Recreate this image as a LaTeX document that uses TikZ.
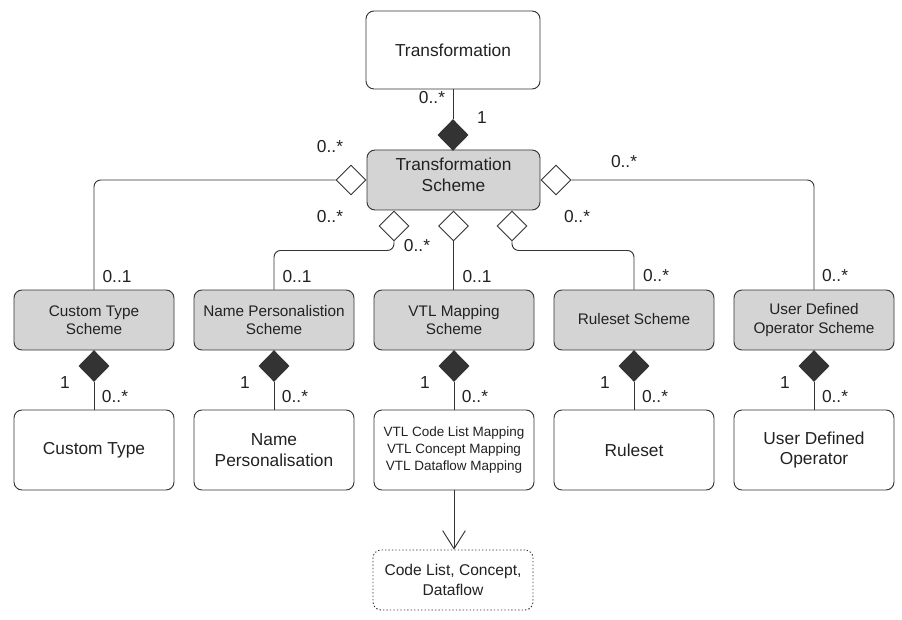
\documentclass[tikz,border=0pt]{standalone}
\usepackage{fontspec}
\setmainfont{Liberation Sans}
\usetikzlibrary{shapes.geometric,arrows.meta}
\definecolor{ln}{HTML}{333333}
\definecolor{txt}{HTML}{222222}
\definecolor{boxgray}{HTML}{D4D4D4}
\tikzset{
  box/.style={draw=ln, line width=0.7pt, rounded corners=6pt, align=center, text=txt, minimum width=120pt},
  clsbox/.style={box, fill=boxgray, minimum height=45pt, font=\fontsize{11.5}{13.8}\selectfont},
  itembox/.style={box, fill=white, minimum height=60pt, font=\fontsize{13}{15.5}\selectfont},
  fdia/.style={diamond, draw=ln, fill=ln, line width=0.7pt, inner sep=0pt, minimum width=22.5pt, minimum height=23pt},
  odia/.style={diamond, draw=ln, fill=white, line width=0.7pt, inner sep=0pt, minimum width=22.5pt, minimum height=22.5pt},
  lbl/.style={font=\fontsize{13}{15}\selectfont, text=txt, inner sep=0pt},
  conn/.style={draw=ln, line width=0.7pt, rounded corners=5pt},
}
\begin{document}
\begin{tikzpicture}[x=0.75pt, y=-0.75pt]
\useasboundingbox (0,0) rectangle (902,620);

% top
\node[box, fill=white, minimum width=130.5pt, minimum height=58.5pt, font=\fontsize{13}{15.5}\selectfont] (tr) at (453,50) {Transformation};
\node[box, fill=boxgray, minimum width=129.75pt, minimum height=45pt] (ts) at (453.5,180) {};
\node[font=\fontsize{13}{15.75}\selectfont, align=center, text=txt] (tstext) at (453.5,175) {Transformation\\Scheme};

\node[fdia] (dtop) at (453,135) {};
\draw[conn] (tr.south) -- (dtop.north);
\node[lbl] (l1) at (432,98) {0..*};
\node[lbl] (l2) at (482,118) {1};

% middle row
\node[clsbox] (cts) at (94,320) {Custom Type\\Scheme};
\node[clsbox] (nps) at (274,320) {Name Personalistion\\Scheme};
\node[clsbox] (vms) at (454,320) {VTL Mapping\\Scheme};
\node[clsbox] (rss) at (634,320) {\raisebox{2pt}{Ruleset Scheme}};
\node[clsbox] (uds) at (814,320) {User Defined\\Operator Scheme};

% open diamonds
\node[odia] (dl) at (351,180) {};
\node[odia] (dr) at (556,180) {};
\node[odia] (db1) at (394,226) {};
\node[odia] (db2) at (453.5,226) {};
\node[odia] (db3) at (512,226) {};

\draw[conn] (dl.west) -| (cts.north);
\draw[conn] (dr.east) -| (uds.north);
\draw[conn] (db1.south) -- ++(0,9) -| (nps.north);
\draw[conn] (db2.south) -- (db2.south |- vms.north);
\draw[conn] (db3.south) -- ++(0,9) -| (rss.north);

\node[lbl] (m1) at (330,147) {0..*};
\node[lbl] (m2) at (624,162) {0..*};
\node[lbl] (m3) at (330,217) {0..*};
\node[lbl] (m4) at (417,246) {0..*};
\node[lbl] (m5) at (577,217) {0..*};
\node[lbl] (m6) at (117,277) {0..1};
\node[lbl] (m7) at (297,277) {0..1};
\node[lbl] (m8) at (477,277) {0..1};
\node[lbl] (m9) at (656,276) {0..*};
\node[lbl] (m10) at (835,276) {0..*};

% bottom row
\node[itembox] (ct) at (94,450) {Custom Type};
\node[itembox] (np) at (274,450) {Name\\Personalisation};
\node[itembox, font=\fontsize{10.1}{12.5}\selectfont] (vm) at (454,450) {VTL Code List Mapping\\VTL Concept Mapping\\VTL Dataflow Mapping};
\node[itembox] (rs) at (634,450) {Ruleset};
\node[itembox] (ud) at (814,450) {User Defined\\Operator};

\foreach \nm/\up/\dn/\x in {fa/cts/ct/94, fb/nps/np/274, fc/vms/vm/454, fd/rss/rs/634, fe/uds/ud/814}{
  \node[fdia] (\nm) at (\x,366) {};
  \draw[conn] (\nm.south) -- (\dn.north);
  \node[lbl] (\nm one) at (\x-29,383) {1};
  \node[lbl] (\nm many) at (\x+21,397) {0..*};
}

% dotted box
\node[box, fill=white, minimum height=45pt, dash pattern=on 1pt off 1.6pt, font=\fontsize{11.7}{14.5}\selectfont] (cl) at (453,580) {Code List, Concept,\\Dataflow};
\draw[draw=ln, line width=0.7pt, -{Straight Barb[length=13.5pt,width=17pt,line width=0.7pt]}] (vm.south) -- (cl.north -| vm.south);

\end{tikzpicture}
\end{document}
